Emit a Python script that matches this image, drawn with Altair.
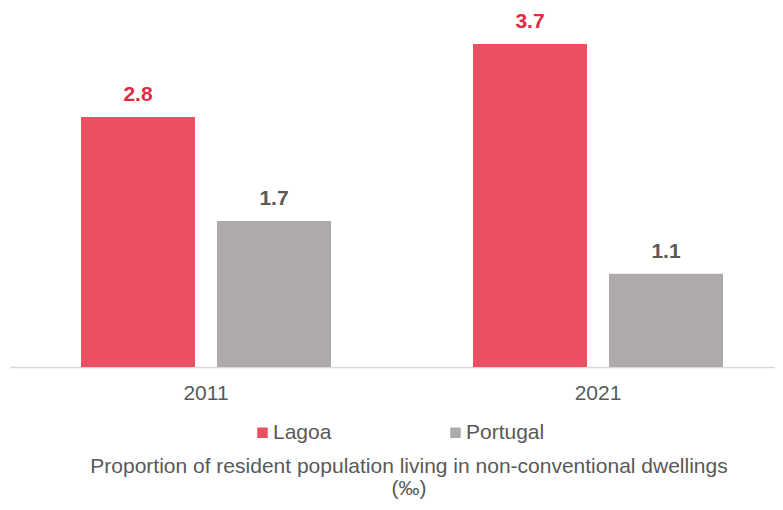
import altair as alt
import pandas as pd

years = ["2011", "2011", "2021", "2021"]
series = ["Lagoa", "Portugal", "Lagoa", "Portugal"]
values = [2.84, 1.66, 3.67, 1.06]
series_order = ["Lagoa", "Portugal"]
bar_colors = ["#EA4F62", "#AEAAAA"]
title_lines = ["Proportion of resident population living in non-conventional dwellings", "(‰)"]

df = pd.DataFrame({"year": years, "series": series, "value": values})

FONT = "Liberation Sans"
TXT = "#595959"

base = alt.Chart(df).encode(
    x=alt.X(
        "year:N",
        title=None,
        scale=alt.Scale(range=[0, 784], paddingInner=0, paddingOuter=0),
        axis=alt.Axis(
            labelAngle=0, labelFontSize=21, labelFont=FONT, labelColor=TXT,
            ticks=False, domainColor="#D9D9D9", domainWidth=1.5, labelPadding=15,
            grid=False,
        ),
    ),
    xOffset=alt.XOffset(
        "series:N",
        sort=series_order,
        scale=alt.Scale(range=[71, 321], paddingInner=0.1618, paddingOuter=0),
    ),
    y=alt.Y("value:Q", scale=alt.Scale(domain=[0, 4], nice=False, zero=True), axis=None),
)

bars = base.mark_bar().encode(
    color=alt.Color(
        "series:N",
        sort=series_order,
        scale=alt.Scale(domain=series_order, range=bar_colors),
        legend=alt.Legend(
            orient="none", legendX=242, legendY=407, direction="horizontal",
            columns=2, title=None, symbolType="square", symbolSize=110,
            labelFontSize=21, labelFont=FONT, labelColor=TXT, labelOffset=0,
            columnPadding=113, symbolStrokeWidth=0, padding=0,
        ),
    )
)

labels = base.mark_text(dy=-16, baseline="alphabetic", fontSize=21, fontWeight="bold", font=FONT).encode(
    text=alt.Text("value:Q", format=".1f"),
    color=alt.condition("datum.series == 'Lagoa'", alt.value("#E42A40"), alt.value("#595959")),
)

chart = alt.layer(bars, labels).properties(
    width=765,
    height=352,
    autosize=alt.AutoSizeParams(type="none"),
    padding={"left": 2, "top": 7, "right": 0, "bottom": 135},
    title=alt.TitleParams(
        title_lines, orient="bottom", anchor="middle", fontSize=21, font=FONT,
        fontWeight="normal", color=TXT, lineHeight=22, dx=16.5, offset=13,
    ),
).configure_view(stroke=None)

chart.save("out.html", embed_options={"renderer": "svg", "actions": False})
